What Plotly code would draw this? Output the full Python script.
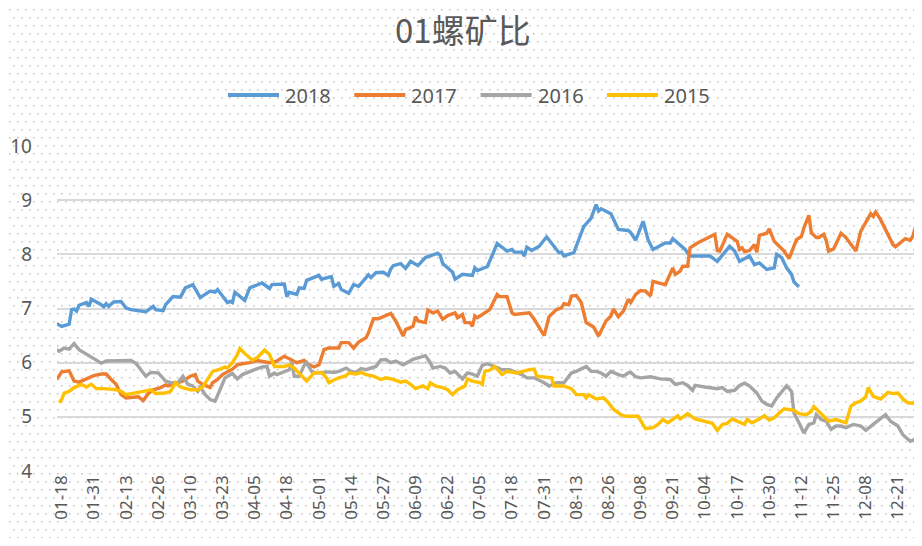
import base64
import pandas as pd
import plotly.graph_objects as go

# ---------------- data (day-of-year in a leap-year calendar, ratio value) ----------------
days_2018 = [16, 18, 21, 22, 23, 24, 25, 28, 29, 30, 34, 35, 36, 37, 39, 42, 44, 46, 52, 55, 56, 59, 60, 63, 66, 68, 71, 74, 78, 80, 81, 85, 86, 87, 88, 92, 94, 99, 102, 103, 108, 109, 110, 113, 114, 116, 117, 122, 123, 127, 128, 130, 131, 134, 136, 138, 142, 143, 145, 148, 150, 151, 152, 155, 157, 159, 162, 165, 170, 171, 172, 176, 177, 180, 184, 185, 186, 188, 190, 192, 194, 198, 200, 201, 204, 205, 206, 208, 211, 214, 219, 220, 221, 225, 227, 229, 232, 234, 235, 236, 240, 243, 247, 248, 250, 253, 255, 257, 262, 264, 265, 268, 270, 272, 280, 283, 286, 288, 290, 292, 296, 298, 300, 303, 306, 307, 309, 311, 313, 314, 316]
vals_2018 = [6.72, 6.67, 6.71, 6.98, 6.99, 6.95, 7.06, 7.11, 7.04, 7.17, 7.07, 7.03, 7.09, 7.04, 7.12, 7.13, 7.01, 6.98, 6.94, 7.04, 6.98, 6.96, 7.07, 7.22, 7.21, 7.38, 7.44, 7.20, 7.32, 7.30, 7.35, 7.11, 7.13, 7.11, 7.30, 7.15, 7.38, 7.47, 7.37, 7.44, 7.45, 7.22, 7.30, 7.26, 7.38, 7.37, 7.52, 7.61, 7.54, 7.59, 7.41, 7.46, 7.35, 7.28, 7.44, 7.41, 7.62, 7.57, 7.66, 7.67, 7.61, 7.73, 7.79, 7.83, 7.74, 7.87, 7.79, 7.94, 8.02, 7.98, 7.83, 7.67, 7.54, 7.63, 7.61, 7.75, 7.70, 7.73, 7.77, 7.98, 8.20, 8.06, 8.09, 8.04, 8.04, 7.97, 8.13, 8.07, 8.15, 8.32, 8.03, 8.04, 7.97, 8.03, 8.27, 8.51, 8.67, 8.92, 8.80, 8.84, 8.75, 8.46, 8.44, 8.40, 8.26, 8.61, 8.27, 8.09, 8.21, 8.21, 8.29, 8.18, 8.09, 7.97, 7.97, 7.87, 8.03, 8.15, 8.06, 7.87, 7.97, 7.81, 7.84, 7.72, 7.75, 8.00, 7.94, 7.75, 7.63, 7.49, 7.40]

days_2017 = [16, 18, 21, 23, 25, 31, 34, 36, 38, 40, 42, 44, 49, 51, 53, 55, 58, 60, 61, 65, 67, 70, 72, 73, 75, 78, 79, 81, 83, 87, 89, 91, 94, 97, 102, 105, 108, 110, 113, 116, 118, 120, 122, 124, 126, 130, 131, 134, 136, 138, 141, 142, 144, 146, 151, 153, 156, 157, 160, 161, 162, 165, 166, 168, 170, 172, 174, 177, 178, 180, 181, 183, 184, 185, 186, 188, 191, 194, 195, 198, 200, 201, 207, 209, 213, 215, 218, 220, 221, 223, 224, 226, 228, 230, 233, 235, 238, 240, 241, 243, 245, 247, 248, 250, 252, 254, 256, 257, 260, 262, 265, 266, 268, 269, 271, 272, 275, 282, 283, 284, 287, 291, 292, 293, 294, 296, 298, 299, 300, 303, 304, 305, 306, 310, 312, 315, 317, 318, 320, 321, 323, 324, 326, 327, 328, 330, 333, 335, 339, 341, 343, 345, 346, 347, 349, 352, 354, 355, 357, 359, 361, 362, 363, 365]
vals_2017 = [5.69, 5.83, 5.85, 5.66, 5.64, 5.76, 5.79, 5.79, 5.69, 5.60, 5.41, 5.35, 5.37, 5.30, 5.43, 5.50, 5.54, 5.59, 5.57, 5.64, 5.66, 5.75, 5.78, 5.66, 5.60, 5.54, 5.63, 5.69, 5.78, 5.88, 5.96, 5.98, 6.00, 6.04, 6.00, 6.03, 6.12, 6.07, 6.00, 6.04, 5.96, 5.92, 5.96, 6.24, 6.27, 6.27, 6.37, 6.37, 6.27, 6.38, 6.46, 6.55, 6.81, 6.81, 6.91, 6.77, 6.49, 6.61, 6.67, 6.85, 6.77, 6.74, 6.97, 6.92, 6.95, 6.80, 6.87, 6.92, 6.83, 6.89, 6.74, 6.74, 6.67, 6.86, 6.83, 6.89, 6.98, 7.26, 7.22, 7.22, 6.92, 6.89, 6.92, 6.80, 6.50, 6.85, 6.98, 7.01, 7.09, 7.07, 7.23, 7.24, 7.11, 6.74, 6.66, 6.49, 6.77, 6.86, 6.99, 6.85, 6.95, 7.17, 7.11, 7.26, 7.33, 7.32, 7.23, 7.50, 7.47, 7.44, 7.75, 7.63, 7.69, 7.78, 7.78, 8.12, 8.21, 8.37, 8.07, 8.06, 8.37, 8.24, 8.09, 8.12, 8.05, 8.07, 8.18, 8.04, 8.35, 8.39, 8.47, 8.37, 8.24, 8.06, 7.92, 8.27, 8.33, 8.49, 8.72, 8.40, 8.31, 8.31, 8.37, 8.26, 8.06, 8.10, 8.39, 8.31, 8.06, 8.43, 8.58, 8.75, 8.70, 8.78, 8.64, 8.37, 8.18, 8.14, 8.22, 8.29, 8.26, 8.33, 8.49, 8.86]

days_2016 = [16, 17, 19, 21, 23, 25, 34, 36, 46, 48, 52, 54, 57, 60, 62, 65, 67, 69, 71, 73, 74, 76, 78, 80, 82, 84, 87, 89, 91, 93, 96, 99, 101, 102, 104, 105, 108, 110, 111, 112, 114, 116, 117, 119, 121, 124, 126, 128, 130, 133, 135, 137, 139, 141, 145, 147, 149, 151, 153, 156, 160, 162, 165, 167, 168, 171, 173, 175, 177, 180, 182, 184, 186, 188, 190, 193, 196, 199, 201, 204, 206, 209, 213, 215, 218, 221, 224, 226, 230, 232, 234, 236, 238, 240, 243, 245, 247, 248, 250, 252, 256, 260, 264, 266, 269, 271, 273, 274, 278, 283, 285, 287, 290, 292, 294, 296, 299, 301, 303, 305, 307, 309, 311, 313, 314, 316, 318, 320, 322, 323, 325, 327, 329, 331, 333, 335, 338, 341, 343, 346, 349, 351, 353, 356, 358, 361, 364, 365]
vals_2016 = [6.24, 6.21, 6.27, 6.25, 6.35, 6.24, 5.99, 6.03, 6.04, 5.99, 5.75, 5.82, 5.81, 5.66, 5.63, 5.63, 5.75, 5.60, 5.57, 5.47, 5.55, 5.41, 5.32, 5.29, 5.50, 5.72, 5.80, 5.70, 5.78, 5.81, 5.87, 5.92, 5.93, 5.75, 5.81, 5.78, 5.84, 5.87, 6.01, 5.75, 5.75, 5.95, 6.00, 5.84, 5.81, 5.82, 5.83, 5.82, 5.84, 5.90, 5.84, 5.82, 5.89, 5.87, 5.93, 6.05, 6.06, 6.00, 6.03, 5.96, 6.06, 6.09, 6.13, 6.00, 5.90, 5.93, 5.90, 5.81, 5.84, 5.70, 5.81, 5.79, 5.75, 5.95, 5.98, 5.93, 5.87, 5.87, 5.84, 5.78, 5.72, 5.72, 5.63, 5.57, 5.63, 5.63, 5.81, 5.84, 5.93, 5.84, 5.84, 5.81, 5.75, 5.84, 5.78, 5.75, 5.81, 5.82, 5.74, 5.72, 5.74, 5.70, 5.69, 5.60, 5.63, 5.58, 5.49, 5.58, 5.55, 5.52, 5.54, 5.47, 5.49, 5.58, 5.62, 5.57, 5.44, 5.29, 5.23, 5.20, 5.35, 5.47, 5.57, 5.47, 5.07, 4.89, 4.70, 4.86, 4.89, 5.04, 4.95, 4.92, 4.77, 4.83, 4.83, 4.80, 4.86, 4.83, 4.75, 4.86, 4.96, 5.04, 4.92, 4.83, 4.67, 4.55, 4.61, 4.40]

days_2015 = [17, 18, 19, 21, 23, 26, 28, 30, 32, 35, 40, 42, 44, 47, 51, 54, 56, 60, 62, 64, 66, 70, 73, 75, 78, 79, 82, 84, 85, 87, 89, 90, 92, 95, 97, 100, 102, 104, 108, 110, 112, 115, 117, 120, 123, 125, 126, 128, 130, 133, 134, 137, 139, 141, 144, 147, 149, 152, 155, 157, 159, 161, 164, 166, 167, 169, 172, 174, 176, 178, 181, 182, 184, 187, 188, 189, 191, 193, 196, 198, 202, 207, 209, 210, 216, 217, 221, 224, 226, 229, 230, 231, 234, 237, 239, 241, 244, 246, 251, 254, 257, 259, 261, 263, 267, 268, 271, 274, 281, 283, 285, 287, 289, 291, 294, 295, 297, 300, 302, 304, 306, 308, 310, 314, 316, 319, 321, 322, 324, 326, 328, 331, 333, 335, 337, 339, 341, 343, 344, 346, 349, 352, 354, 356, 358, 360, 362, 364, 365]
vals_2015 = [5.26, 5.32, 5.44, 5.47, 5.54, 5.60, 5.55, 5.60, 5.52, 5.52, 5.50, 5.47, 5.41, 5.43, 5.47, 5.50, 5.43, 5.44, 5.47, 5.63, 5.55, 5.50, 5.50, 5.55, 5.75, 5.84, 5.88, 5.92, 5.90, 6.00, 6.15, 6.26, 6.17, 6.05, 6.09, 6.23, 6.15, 5.93, 5.93, 5.96, 5.90, 5.75, 5.66, 5.81, 5.82, 5.72, 5.63, 5.68, 5.72, 5.76, 5.81, 5.79, 5.82, 5.78, 5.75, 5.69, 5.72, 5.69, 5.64, 5.66, 5.60, 5.52, 5.57, 5.52, 5.63, 5.57, 5.54, 5.50, 5.41, 5.50, 5.57, 5.70, 5.66, 5.63, 5.60, 5.84, 5.86, 5.93, 5.78, 5.84, 5.81, 5.87, 5.88, 5.75, 5.72, 5.57, 5.57, 5.52, 5.41, 5.41, 5.35, 5.41, 5.33, 5.35, 5.26, 5.14, 5.04, 5.01, 5.01, 4.78, 4.80, 4.86, 4.95, 4.89, 5.02, 4.96, 5.06, 4.96, 4.88, 4.75, 4.86, 4.88, 4.96, 4.92, 4.86, 4.95, 4.89, 4.96, 5.02, 4.94, 4.98, 5.07, 5.15, 5.12, 5.06, 5.04, 5.10, 5.19, 5.10, 5.00, 4.92, 4.95, 4.92, 4.89, 5.20, 5.26, 5.29, 5.37, 5.54, 5.38, 5.33, 5.45, 5.43, 5.44, 5.33, 5.26, 5.25, 5.33, 5.14]

series_names = ["2018", "2017", "2016", "2015"]
series_colors = ["#5B9BD5", "#ED7D31", "#A5A5A5", "#FFC000"]
title_text = "01螺矿比"
y_ticks = [4, 5, 6, 7, 8, 9, 10]

BASE = pd.Timestamp("2016-01-01")


def to_dates(days):
    return [BASE + pd.Timedelta(days=d - 1) for d in days]


# figure geometry: the page body adds an 8px margin, so the figure is sized to
# fit inside the window without scrollbars
W, H = 906, 530
ML, MR, MT, MB = 49, 0, 138, 67
pw, ph = W - ML - MR, H - MT - MB

fig = go.Figure()
for name, color, days, vals in zip(
    series_names,
    series_colors,
    [days_2018, days_2017, days_2016, days_2015],
    [vals_2018, vals_2017, vals_2016, vals_2015],
):
    fig.add_trace(
        go.Scatter(
            x=to_dates(days),
            y=vals,
            mode="lines",
            name=name,
            line=dict(color=color, width=3.4),
            hoverinfo="skip",
            showlegend=False,
        )
    )

# custom legend (long line samples like the original)
LEG_X0, LEG_STEP, LEG_LINE, LEG_TXT, LEG_Y = 220, 126.3, 51, 55, 87


def px_to_paper_x(px):
    return (px - ML) / pw


def px_to_paper_y(py):
    return 1 - (py - MT) / ph


for i, (name, color) in enumerate(zip(series_names, series_colors)):
    x0 = LEG_X0 + i * LEG_STEP
    fig.add_shape(
        type="line",
        xref="paper",
        yref="paper",
        x0=px_to_paper_x(x0),
        x1=px_to_paper_x(x0 + LEG_LINE),
        y0=px_to_paper_y(LEG_Y),
        y1=px_to_paper_y(LEG_Y),
        line=dict(color=color, width=4),
    )
    fig.add_annotation(
        text=name,
        xref="paper",
        yref="paper",
        x=px_to_paper_x(x0 + LEG_TXT),
        y=px_to_paper_y(LEG_Y),
        xanchor="left",
        yanchor="middle",
        showarrow=False,
        font=dict(size=20, color="#595959"),
    )

# title as an annotation placed inside the figure
fig.add_annotation(
    text=title_text,
    xref="paper",
    yref="paper",
    x=px_to_paper_x(455),
    y=px_to_paper_y(21),
    xanchor="center",
    yanchor="middle",
    showarrow=False,
    font=dict(size=33, color="#595959", family="Noto Sans CJK SC, Noto Sans, sans-serif"),
)

# dotted background pattern (Excel-like)
svg = (
    f'<svg xmlns="http://www.w3.org/2000/svg" width="{W}" height="{H}">'
    '<defs><pattern id="p" width="8" height="16" patternUnits="userSpaceOnUse">'
    '<rect x="1" y="1" width="1.6" height="1.6" fill="#c8c8c8"/>'
    '<rect x="5" y="9" width="1.6" height="1.6" fill="#c8c8c8"/>'
    f'</pattern></defs><rect width="{W}" height="{H}" fill="url(#p)"/></svg>'
)
src = "data:image/svg+xml;base64," + base64.b64encode(svg.encode()).decode()

fig.add_layout_image(
    dict(
        source=src,
        xref="paper",
        yref="paper",
        x=-ML / pw,
        y=1 + MT / ph,
        sizex=W / pw,
        sizey=H / ph,
        xanchor="left",
        yanchor="top",
        sizing="stretch",
        layer="below",
    )
)

font_family = "Noto Sans, Noto Sans CJK SC, sans-serif"
fig.update_layout(
    width=W,
    height=H,
    margin=dict(l=ML, r=MR, t=MT, b=MB),
    paper_bgcolor="white",
    plot_bgcolor="rgba(0,0,0,0)",
    font=dict(family=font_family, color="#595959"),
    showlegend=False,
    xaxis=dict(
        type="date",
        range=["2016-01-16 02:24", "2016-12-27 12:00"],
        tick0="2016-01-18",
        dtick=13 * 86400000,
        tickformat="%m-%d",
        tickangle=-90,
        tickfont=dict(size=17, color="#595959"),
        showgrid=False,
        zeroline=False,
        showline=False,
        ticks="",
        automargin=False,
        fixedrange=True,
    ),
    yaxis=dict(
        range=[4, 10],
        tickvals=y_ticks,
        tickfont=dict(size=19, color="#595959"),
        showgrid=True,
        gridcolor="#d9d9d9",
        gridwidth=1.6,
        zeroline=False,
        showline=False,
        ticks="",
        ticklabelstandoff=24,
        automargin=False,
        fixedrange=True,
    ),
)

fig.write_html("out.html")
